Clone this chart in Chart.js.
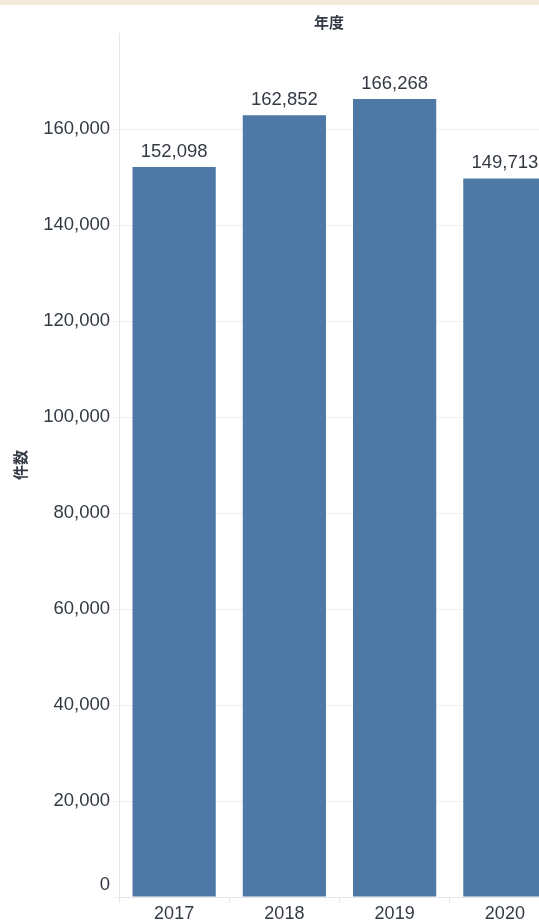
<!DOCTYPE html>
<html>
<head>
<meta charset="utf-8">
<script src="https://cdn.jsdelivr.net/npm/chart.js@4"></script>
<style>
  html, body { margin: 0; padding: 0; background: #fff; overflow: hidden; }
  #wrap { position: relative; width: 539px; height: 923px; overflow: hidden; }
  #strip { position: absolute; left: 0; top: 0; width: 539px; height: 5px; background: #f5eadb; }
  #chart { position: absolute; left: 0; top: 0; }
</style>
</head>
<body>
<div id="wrap">
  <canvas id="chart" width="560" height="923"></canvas>
  <div id="strip"></div>
</div>
<script>
// --- data ---
const years = ['2017', '2018', '2019', '2020'];
const counts = [152098, 162852, 166268, 149713];
const yTicks = [0, 20000, 40000, 60000, 80000, 100000, 120000, 140000, 160000];

const TEXT = '#333a44';
const BAR = '#4e79a7';
const LATIN = '"Liberation Sans", Arial, sans-serif';
const CJK = '"Noto Sans CJK JP", "Noto Sans CJK SC", sans-serif';

// column header "年度" centred over the visible part of the pane,
// plus the "0" tick label which Tableau nudges up off the baseline
const header = {
    id: 'header',
    afterDraw(chart) {
        const ctx = chart.ctx;
        const y = chart.scales.y;
        ctx.save();
        ctx.font = 'bold 15px ' + CJK;
        ctx.fillStyle = TEXT;
        ctx.textAlign = 'center';
        ctx.textBaseline = 'middle';
        ctx.fillText('年度', (chart.chartArea.left + 539) / 2, 22);

        ctx.font = '18.5px ' + LATIN;
        ctx.textAlign = 'right';
        ctx.fillText('0', y.right - 9, y.getPixelForValue(0) - 12);
        ctx.restore();
    }
};

// value labels above each bar
const barLabels = {
    id: 'barLabels',
    afterDatasetsDraw(chart) {
        const ctx = chart.ctx;
        const meta = chart.getDatasetMeta(0);
        ctx.save();
        ctx.font = '18.5px ' + LATIN;
        ctx.fillStyle = TEXT;
        ctx.textAlign = 'center';
        ctx.textBaseline = 'middle';
        meta.data.forEach((bar, i) => {
            ctx.fillText(counts[i].toLocaleString('en-US'), bar.x, bar.y - 15);
        });
        ctx.restore();
    }
};

new Chart(document.getElementById('chart'), {
    type: 'bar',
    data: {
        labels: years,
        datasets: [{
            data: counts,
            backgroundColor: BAR,
            borderWidth: 0,
            barPercentage: 0.755,
            categoryPercentage: 1
        }]
    },
    options: {
        responsive: false,
        animation: false,
        layout: { padding: { top: 33, right: 0, bottom: 0, left: 0 } },
        plugins: {
            legend: { display: false },
            tooltip: { enabled: false }
        },
        scales: {
            x: {
                afterFit: (scale) => { scale.height = 26; },
                grid: {
                    drawOnChartArea: false,
                    tickLength: 6,
                    color: '#e6e6e6'
                },
                border: { display: true, color: '#e6e6e6' },
                ticks: {
                    color: TEXT,
                    font: { family: LATIN, size: 18 },
                    padding: 0,
                    maxRotation: 0
                }
            },
            y: {
                min: 0,
                max: 180000,
                afterFit: (scale) => { scale.width = 119; },
                afterBuildTicks: (scale) => {
                    scale.ticks = yTicks.map(v => ({ value: v }));
                },
                grid: {
                    tickLength: 6,
                    color: '#f0f0f0'
                },
                border: { display: true, color: '#e6e6e6' },
                ticks: {
                    color: TEXT,
                    font: { family: LATIN, size: 18.5 },
                    padding: 3,
                    callback: (v) => (v === 0 ? '' : v.toLocaleString('en-US'))
                },
                title: {
                    display: true,
                    text: '件数',
                    color: TEXT,
                    font: { family: CJK, size: 15, weight: 'bold' },
                    padding: { top: 11, bottom: 0 }
                }
            }
        }
    },
    plugins: [header, barLabels]
});
</script>
</body>
</html>
